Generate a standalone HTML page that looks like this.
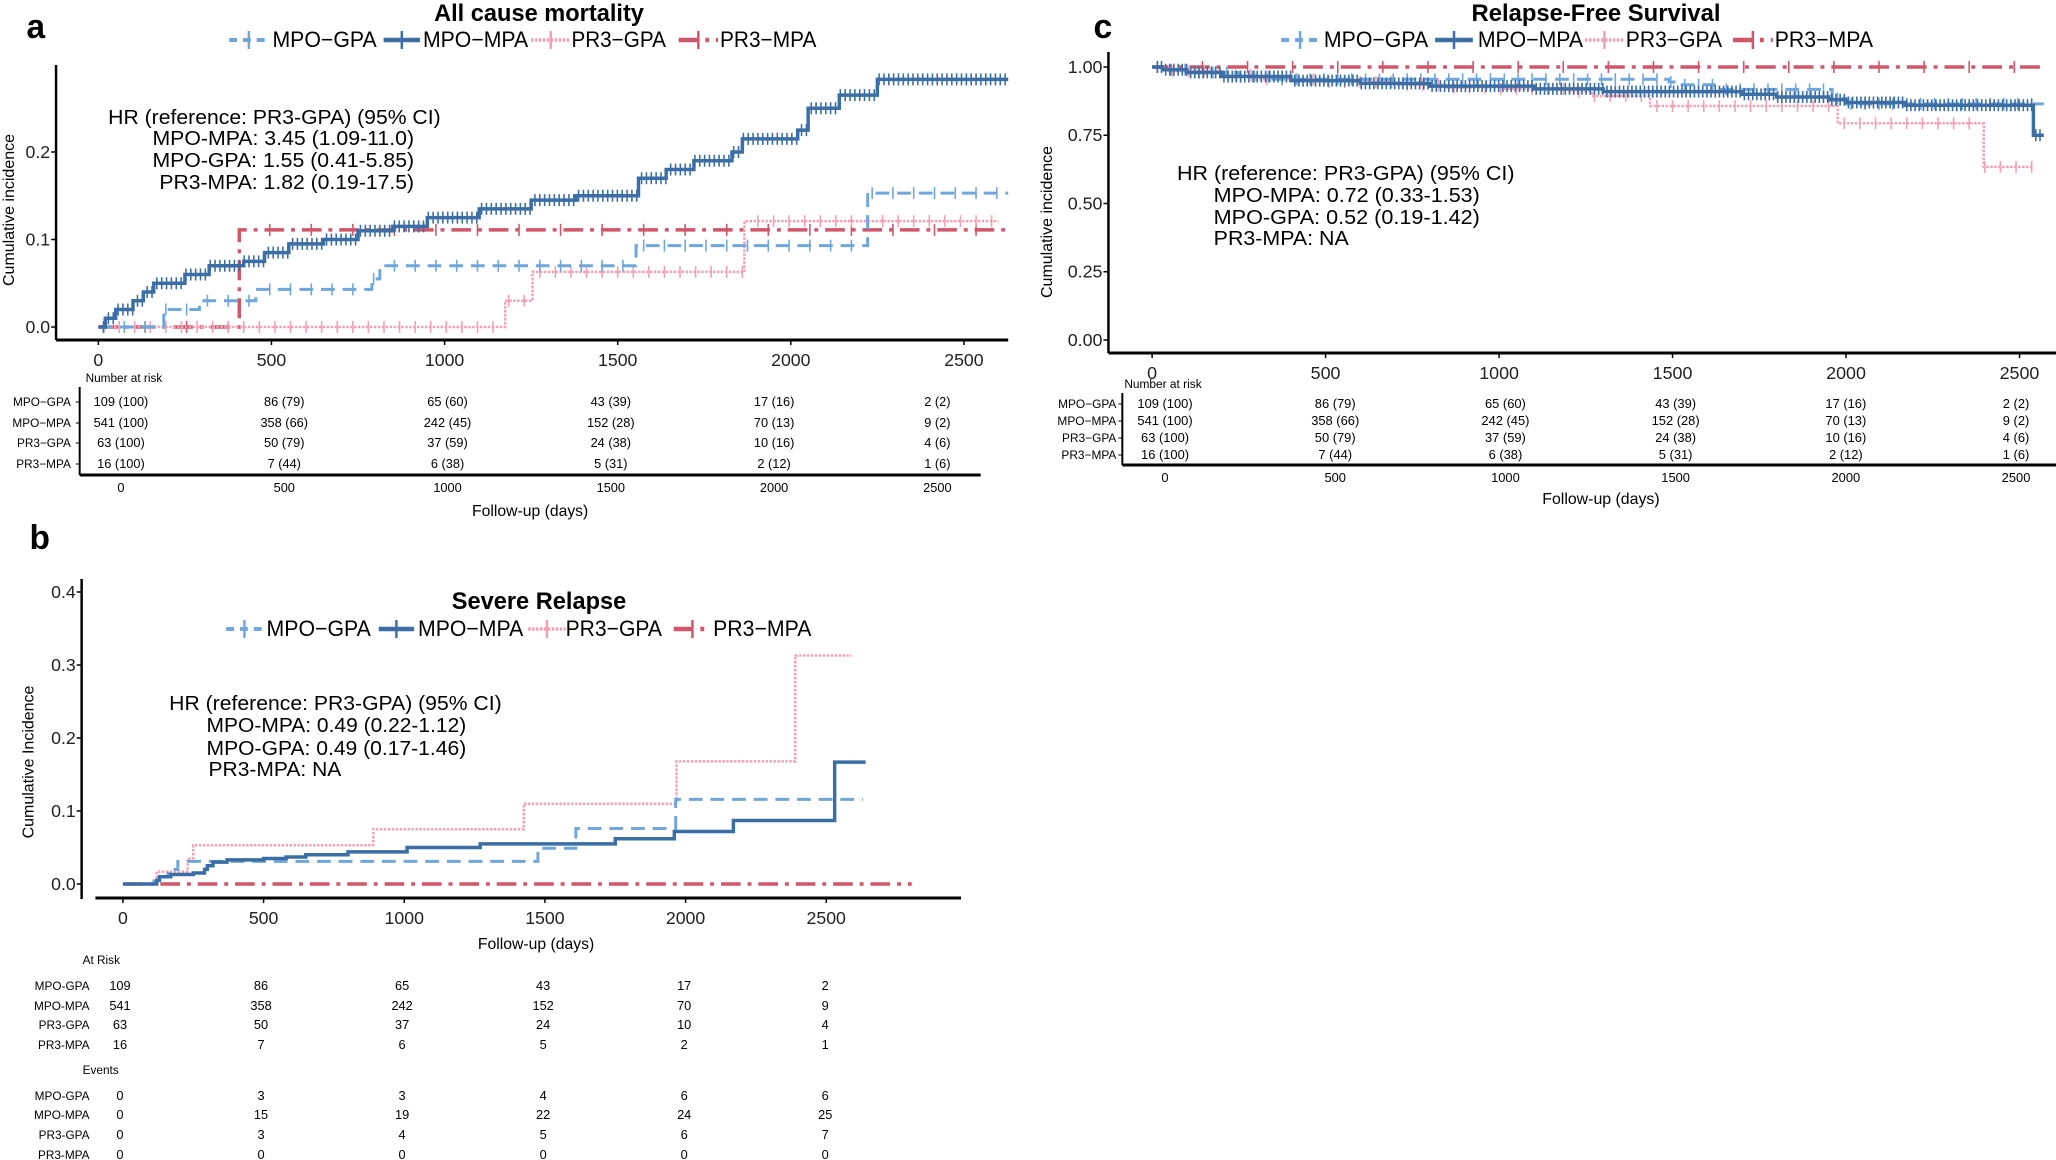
<!DOCTYPE html>
<html><head><meta charset="utf-8"><style>
html,body{margin:0;padding:0;background:#fff;}
svg{display:block;font-family:"Liberation Sans",sans-serif;}
</style></head><body>
<svg id="fig" width="2056" height="1160" viewBox="0 0 2056 1160" xmlns="http://www.w3.org/2000/svg"></svg>
<script>
// ---------- Panel a: All cause mortality ----------
const a_mpoGpa_t=[0,189,292,455,790,813,1553,2222];
const a_mpoGpa_v=[0,0.02,0.03,0.043,0.055,0.07,0.093,0.153];
const a_mpoMpa_t=[0,20,50,100,130,160,250,320,420,480,550,650,750,850,950,1100,1250,1380,1560,1640,1720,1830,1860,2020,2050,2140,2250];
const a_mpoMpa_v=[0,0.01,0.02,0.03,0.04,0.05,0.06,0.07,0.075,0.085,0.095,0.10,0.11,0.115,0.125,0.135,0.145,0.15,0.17,0.18,0.19,0.20,0.215,0.225,0.25,0.265,0.283];
const a_pr3Gpa_t=[0,1175,1254,1866];
const a_pr3Gpa_v=[0,0.03,0.063,0.121];
const a_pr3Mpa_t=[0,407];
const a_pr3Mpa_v=[0,0.111];
const a_end=[2628,2628,2600,2628];
const a_yticks=[0,0.1,0.2];
const a_yticklabels=["0.0","0.1","0.2"];
const a_xticks=[0,500,1000,1500,2000,2500];
const a_risk=[["109 (100)","86 (79)","65 (60)","43 (39)","17 (16)","2 (2)"],["541 (100)","358 (66)","242 (45)","152 (28)","70 (13)","9 (2)"],["63 (100)","50 (79)","37 (59)","24 (38)","10 (16)","4 (6)"],["16 (100)","7 (44)","6 (38)","5 (31)","2 (12)","1 (6)"]];
// ---------- Panel b: Severe relapse ----------
const b_mpoGpa_t=[0,110,160,195,1475,1610,1965];
const b_mpoGpa_v=[0,0.01,0.02,0.031,0.049,0.076,0.116];
const b_mpoMpa_t=[0,120,130,170,250,290,300,320,370,500,580,650,800,1010,1270,1750,1960,2170,2530];
const b_mpoMpa_v=[0,0.005,0.01,0.013,0.015,0.02,0.025,0.03,0.033,0.035,0.037,0.04,0.044,0.05,0.055,0.062,0.072,0.087,0.167];
const b_pr3Gpa_t=[0,120,230,250,890,1425,1968,2390];
const b_pr3Gpa_v=[0,0.017,0.035,0.053,0.075,0.11,0.168,0.313];
const b_pr3Mpa_t=[0];
const b_pr3Mpa_v=[0];
const b_end=[2630,2640,2590,2804];
const b_yticks=[0,0.1,0.2,0.3,0.4];
const b_yticklabels=["0.0","0.1","0.2","0.3","0.4"];
const b_xticks=[0,500,1000,1500,2000,2500];
const b_atrisk=[["109","86","65","43","17","2"],["541","358","242","152","70","9"],["63","50","37","24","10","4"],["16","7","6","5","2","1"]];
const b_events=[["0","3","3","4","6","6"],["0","15","19","22","24","25"],["0","3","4","5","6","7"],["0","0","0","0","0","0"]];
// ---------- Panel c: Relapse-free survival ----------
const c_mpoGpa_t=[0,30,100,250,350,1490,1520,1620,1960,2000];
const c_mpoGpa_v=[1,0.99,0.98,0.965,0.955,0.945,0.935,0.918,0.885,0.865];
const c_mpoMpa_t=[0,30,100,200,400,600,800,1100,1300,1700,1800,1950,2000,2170,2540];
const c_mpoMpa_v=[1,0.99,0.98,0.965,0.95,0.94,0.93,0.92,0.91,0.9,0.89,0.88,0.87,0.86,0.75];
const c_pr3Gpa_t=[0,50,200,300,500,700,850,1000,1200,1268,1435,1976,2397];
const c_pr3Gpa_v=[1,0.985,0.97,0.955,0.945,0.935,0.925,0.92,0.91,0.894,0.857,0.794,0.634];
const c_pr3Mpa_t=[0];
const c_pr3Mpa_v=[1];
const c_end=[2570,2570,2540,2570];
const c_yticks=[0,0.25,0.5,0.75,1];
const c_yticklabels=["0.00","0.25","0.50","0.75","1.00"];
const c_xticks=[0,500,1000,1500,2000,2500];
const groups=["MPO−GPA","MPO−MPA","PR3−GPA","PR3−MPA"];

const NS="http://www.w3.org/2000/svg";
const svg=document.getElementById('fig');
let cur=svg;
function el(tag,attrs,parent,txt){const e=document.createElementNS(NS,tag);for(const k in attrs)e.setAttribute(k,attrs[k]);if(txt!==undefined)e.textContent=txt;(parent||cur).appendChild(e);return e;}
const COL=["#6fa6dc","#3b6ea5","#f3a0b4","#d0566a"];
const DASH=["14,8","none","2.5,1.5","20,7,4,7"];
const WID=[3,3.5,2.5,3.5];

function stepPath(t,v,end,X,Y){let d="M"+X(t[0])+","+Y(v[0]);for(let i=1;i<t.length;i++){d+=" H"+X(t[i])+" V"+Y(v[i]);}d+=" H"+X(end);return d;}

function panel(o){
  const g=el('g',{});
  
  
  const X=d=>o.x0+d*o.xs, Y=v=>o.y0-v*o.ys;
  const L=el('text',{x:o.letter[0],y:o.letter[1],'font-size':34,'font-weight':'bold'},g,o.letter[2]);
  
  const T=el('text',{x:o.title[0],y:o.title[1],'font-size':24,'font-weight':'bold','text-anchor':'middle'},g,o.title[2]);
  
  for(let i=0;i<4;i++){
    const s=o.leg[i];
    const lg=el('g',{},g);
    
    el('line',{x1:s[0],x2:s[1],y1:o.legY-7,y2:o.legY-7,stroke:COL[i],'stroke-width':WID[i]+1,'stroke-dasharray':DASH[i]==="none"?"":(i==0?"8,6":DASH[i])},lg);
    const m=(s[0]+s[1])/2;
    el('line',{x1:m,x2:m,y1:o.legY-16,y2:o.legY+2,stroke:COL[i],'stroke-width':2.5},lg);
    el('text',{x:s[2],y:o.legY,'font-size':22,textLength:s[3]-s[2],lengthAdjust:'spacingAndGlyphs'},lg,groups[i]);
  }
  const ya=el('line',{x1:o.yax,x2:o.yax,y1:o.yaxT,y2:o.yaxB,stroke:'#000','stroke-width':2.5},g);
  
  const xa=el('line',{x1:o.xaxL,x2:o.xaxR,y1:o.xaxY,y2:o.xaxY,stroke:'#000','stroke-width':3},g);
  
  o.yticks.forEach((v,i)=>{
    el('line',{x1:o.yax-5,x2:o.yax,y1:Y(v),y2:Y(v),stroke:'#000','stroke-width':1.5},g);
    const t=el('text',{x:o.yax-6,y:Y(v)+6,'font-size':18,'text-anchor':'end',fill:'#222'},g,o.yticklabels[i]);
    
  });
  o.xticks.forEach(v=>{
    el('line',{x1:X(v),x2:X(v),y1:o.xaxY,y2:o.xaxY+5,stroke:'#000','stroke-width':1.5},g);
    const t=el('text',{x:X(v),y:o.xaxY+26,'font-size':18,'text-anchor':'middle',fill:'#222'},g,String(v));
    
  });
  const yt=el('text',{x:0,y:0,'font-size':16,'text-anchor':'middle',transform:`translate(${o.ytitle[0]},${o.ytitle[1]}) rotate(-90)`},g,o.ytitle[2]);
  
  const order=[3,2,0,1];
  for(const i of order){
    const p=el('path',{d:stepPath(o.series[i][0],o.series[i][1],o.ends[i],X,Y),fill:'none',stroke:COL[i],'stroke-width':WID[i],'stroke-dasharray':DASH[i]==="none"?"":DASH[i]},g);
    
    
    if(o.censor){
      const t=o.series[i][0],v=o.series[i][1];
      const step=o.censorStep[i];
      for(let d=15;d<o.ends[i];d+=step){
        let k=0;for(let j=0;j<t.length;j++)if(t[j]<=d)k=j;
        el('line',{x1:X(d),x2:X(d),y1:Y(v[k])-6,y2:Y(v[k])+6,stroke:COL[i],'stroke-width':1.6},g);
      }
    }
  }
  o.hr.forEach((h,i)=>{
    const t=el('text',{x:h[0],y:h[1],'font-size':20,'text-anchor':h[2],textLength:h[3],lengthAdjust:'spacingAndGlyphs'},g,h[4]);
    
  });
  return g;
}

function riskTable(o){
  const g=el('g',{});
  
  el('text',{x:o.headX,y:o.headY,'font-size':12},g,o.head);
  if(o.axis){
    el('line',{x1:o.axX,x2:o.axX,y1:o.axT,y2:o.axB,stroke:'#000','stroke-width':2},g);
    el('line',{x1:o.axX,x2:o.axR,y1:o.axB,y2:o.axB,stroke:'#000','stroke-width':3},g);
    o.ticks.forEach(v=>{
      const x=o.tx0+v*o.txs;
      el('text',{x:x,y:o.axB+17,'font-size':13,'text-anchor':'middle'},g,String(v));
    });
  }
  o.rows.forEach((r,ri)=>{
    const y=o.rowY[ri];
    el('text',{x:o.labX,y:y+4,'font-size':12,'text-anchor':'end'},g,o.labels[ri]);
    if(o.axis)el('line',{x1:o.axX-4,x2:o.axX,y1:y,y2:y,stroke:'#000','stroke-width':1},g);
    r.forEach((c,ci)=>{
      el('text',{x:o.tx0+o.ticks[ci]*o.txs,y:y+4,'font-size':13,'text-anchor':'middle'},g,c);
    });
  });
  if(o.xtitle){const t=el('text',{x:o.xtitle[0],y:o.xtitle[1],'font-size':16,'text-anchor':'middle'},g,o.xtitle[2]);}
}
const labs=["MPO−GPA","MPO−MPA","PR3−GPA","PR3−MPA"];
const labs2=["MPO-GPA","MPO-MPA","PR3-GPA","PR3-MPA"];
const SX=0.9836, SXC=0.993;

// Panel a
const gA=el('g',{transform:`scale(${SX},1)`},svg);

cur=gA;
panel({name:'panel-a-all-cause-mortality',letter:[27,38,'a'],title:[548,21,'All cause mortality'],
  legY:47,leg:[[233,273,277,383],[390,427,430,537],[540,580,581,677],[690,730,732,830]],
  x0:100,xs:0.352,y0:327,ys:875,yax:57,yaxT:65,yaxB:340,xaxL:57,xaxR:1025,xaxY:340,
  yticks:a_yticks,yticklabels:a_yticklabels,xticks:a_xticks,ytitle:[14,210,'Cumulative incidence'],
  series:[[a_mpoGpa_t,a_mpoGpa_v],[a_mpoMpa_t,a_mpoMpa_v],[a_pr3Gpa_t,a_pr3Gpa_v],[a_pr3Mpa_t,a_pr3Mpa_v]],ends:a_end,
  censor:true,censorStep:[60,14,45,120],
  hr:[[110,124,'start',338,'HR (reference: PR3-GPA) (95% CI)'],[421,145,'end',266,'MPO-MPA: 3.45 (1.09-11.0)'],[421,167,'end',266,'MPO-GPA: 1.55 (0.41-5.85)'],[421,189,'end',259,'PR3-MPA: 1.82 (0.19-17.5)']]});
riskTable({name:'risk-table-a',head:'Number at risk',headX:87,headY:382,axis:true,axX:81,axT:387,axB:475,axR:997,
  ticks:[0,500,1000,1500,2000,2500],tx0:123,txs:0.332,rows:a_risk,rowY:[402,423,443,464],labX:72,labels:labs,
  xtitle:[539,516,'Follow-up (days)']});

// Panel b
const gB=el('g',{transform:`scale(${SX},1)`},svg);

cur=gB;
panel({name:'panel-b-severe-relapse',letter:[30,549,'b'],title:[548,609,'Severe Relapse'],
  legY:636,leg:[[230,267,271,377],[385,421,425,532],[537,575,575,673],[685,723,725,825]],
  x0:125,xs:0.286,y0:884,ys:730,yax:83,yaxT:579,yaxB:899,xaxL:97,xaxR:977,xaxY:898,
  yticks:b_yticks,yticklabels:b_yticklabels,xticks:b_xticks,ytitle:[34,762,'Cumulative Incidence'],
  series:[[b_mpoGpa_t,b_mpoGpa_v],[b_mpoMpa_t,b_mpoMpa_v],[b_pr3Gpa_t,b_pr3Gpa_v],[b_pr3Mpa_t,b_pr3Mpa_v]],ends:b_end,
  censor:false,
  hr:[[172,710,'start',338,'HR (reference: PR3-GPA) (95% CI)'],[210,732,'start',264,'MPO-MPA: 0.49 (0.22-1.12)'],[210,755,'start',264,'MPO-GPA: 0.49 (0.17-1.46)'],[212,776,'start',135,'PR3-MPA: NA']]});
(function(){const t=el('text',{x:545,y:949,'font-size':16,'text-anchor':'middle'},gB,'Follow-up (days)');})();
riskTable({name:'at-risk-table-b',head:'At Risk',headX:84,headY:964,axis:false,ticks:[0,500,1000,1500,2000,2500],tx0:122,txs:0.2868,
  rows:b_atrisk,rowY:[986,1006,1025,1045],labX:91,labels:labs2});
riskTable({name:'events-table-b',head:'Events',headX:84,headY:1074,axis:false,ticks:[0,500,1000,1500,2000,2500],tx0:122,txs:0.2868,
  rows:b_events,rowY:[1096,1115,1135,1155],labX:91,labels:labs2});

// Panel c
const gC=el('g',{transform:`translate(1028,0) scale(${SXC},1) translate(-1028,0)`},svg);

cur=gC;
panel({name:'panel-c-relapse-free-survival',letter:[1094,38,'c'],title:[1600,21,'Relapse-Free Survival'],
  legY:47,leg:[[1283,1321,1326,1431],[1438,1476,1481,1587],[1589,1628,1630,1727],[1738,1778,1780,1879]],
  x0:1153,xs:0.3494,y0:340,ys:273,yax:1109,yaxT:52,yaxB:353,xaxL:1109,xaxR:2080,xaxY:353,
  yticks:c_yticks,yticklabels:c_yticklabels,xticks:c_xticks,ytitle:[1052,222,'Cumulative incidence'],
  series:[[c_mpoGpa_t,c_mpoGpa_v],[c_mpoMpa_t,c_mpoMpa_v],[c_pr3Gpa_t,c_pr3Gpa_v],[c_pr3Mpa_t,c_pr3Mpa_v]],ends:c_end,
  censor:true,censorStep:[40,12,45,130],
  hr:[[1178,180,'start',340,'HR (reference: PR3-GPA) (95% CI)'],[1215,202,'start',268,'MPO-MPA: 0.72 (0.33-1.53)'],[1215,224,'start',268,'MPO-GPA: 0.52 (0.19-1.42)'],[1215,245,'start',136,'PR3-MPA: NA']]});
riskTable({name:'risk-table-c',head:'Number at risk',headX:1125,headY:388,axis:true,axX:1123,axT:393,axB:465,axR:2080,
  ticks:[0,500,1000,1500,2000,2500],tx0:1166,txs:0.3428,rows:a_risk,rowY:[404,421,438,455],labX:1117,labels:labs,
  xtitle:[1605,504,'Follow-up (days)']});
cur=svg;
</script>
</body></html>
